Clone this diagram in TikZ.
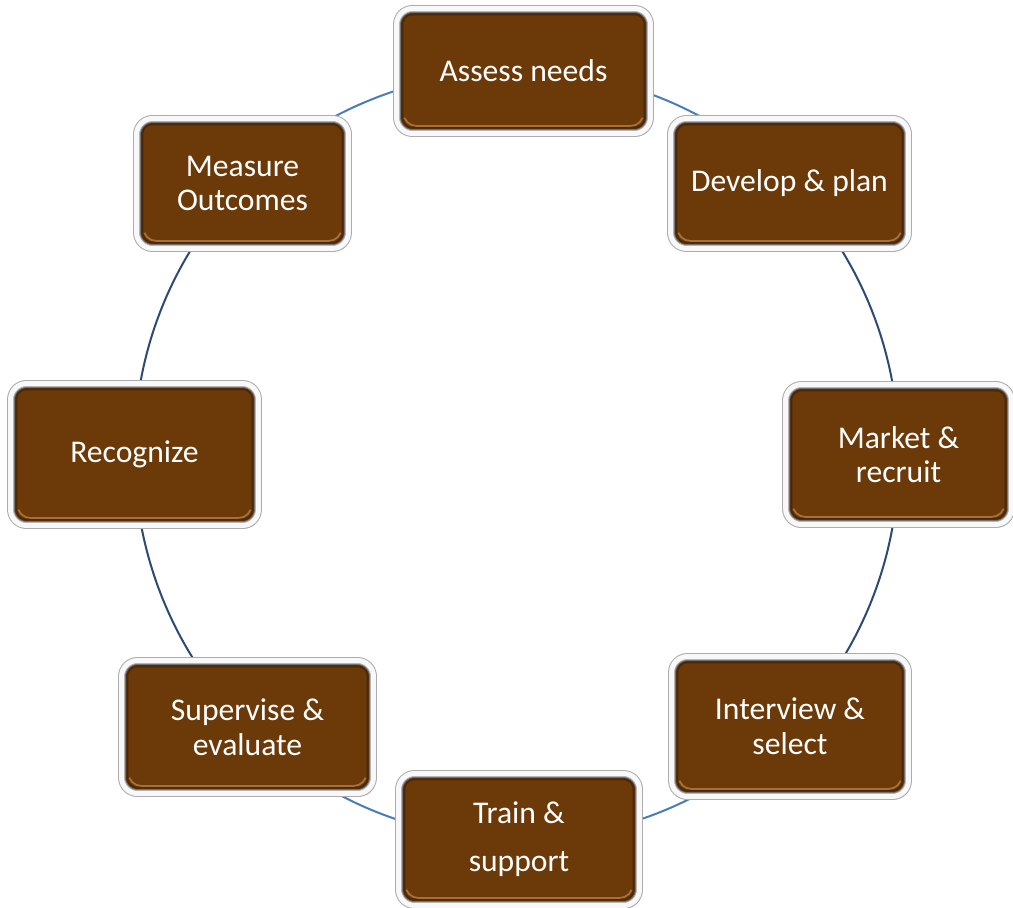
\documentclass[tikz,border=0pt]{standalone}
\usepackage{fontspec}
\setmainfont{Carlito}
\usetikzlibrary{shadows}
\definecolor{boxbrown}{RGB}{108,57,8}
\definecolor{innerdark}{RGB}{58,28,2}
\definecolor{hilite}{RGB}{190,132,72}
\definecolor{framegray}{RGB}{172,172,172}
\definecolor{frameinner}{RGB}{105,105,105}
\definecolor{framewhite}{RGB}{248,248,248}
\definecolor{arclight}{RGB}{74,124,186}
\definecolor{arcdark}{RGB}{44,74,114}
\pgfdeclarelayer{background}
\pgfsetlayers{background,main}
\tikzset{
  stage/.style={rectangle, rounded corners=0.32cm, fill=boxbrown,
    draw=framegray, line width=0.02cm, double=framewhite, double distance=0.1cm,
    drop shadow={shadow xshift=1.2pt, shadow yshift=-1.6pt, opacity=0.3, fill=black},
    text=white, font=\fontsize{18}{19.7}\selectfont, align=center, inner sep=0pt,
    path picture={
      \draw[line width=0.27cm, innerdark, opacity=0.6, rounded corners=0.32cm]
        (path picture bounding box.south west) rectangle (path picture bounding box.north east);
      \draw[line width=0.18cm, frameinner, rounded corners=0.32cm]
        (path picture bounding box.south west) rectangle (path picture bounding box.north east);
      \begin{scope}
        \clip (path picture bounding box.south west) rectangle ([yshift=0.36cm]path picture bounding box.south east);
        \draw[line width=0.035cm, hilite, opacity=0.75, rounded corners=0.26cm]
          ([shift={(0.14cm,0.15cm)}]path picture bounding box.south west) rectangle
          ([shift={(-0.14cm,-0.15cm)}]path picture bounding box.north east);
      \end{scope}
    }},
  ring/.style={line width=0.04cm, bend left=22.5, looseness=0.885},
}
\begin{document}
\begin{tikzpicture}[x=0.02cm, y=0.02cm]
\begin{pgfonlayer}{background}
  \fill[white] (0,0) rectangle (1013,907);
\end{pgfonlayer}
\useasboundingbox (0,0) rectangle (1013,907);

\node[stage, minimum width=5.08cm, minimum height=2.5cm]  (assess)  at (523.5,836)   {Assess needs};
\node[stage, minimum width=4.76cm, minimum height=2.6cm]  (develop) at (789.5,723.5) {Develop \& plan};
\node[stage, minimum width=4.52cm, minimum height=2.8cm]  (market)  at (898.5,452.5) {Market \&\\recruit};
\node[stage, minimum width=4.74cm, minimum height=2.8cm]  (interview) at (790,180.5) {Interview \&\\select};
\node[stage, minimum width=4.82cm, minimum height=2.64cm] (train)   at (519,67.5)    {Train \&\\[7.5pt]support};
\node[stage, minimum width=5.04cm, minimum height=2.66cm] (supervise) at (247.5,180) {Supervise \&\\evaluate};
\node[stage, minimum width=4.96cm, minimum height=2.84cm] (recognize) at (134.5,452.5) {Recognize};
\node[stage, minimum width=4.24cm, minimum height=2.6cm]  (measure) at (242.5,723.5) {Measure\\Outcomes};

\begin{pgfonlayer}{background}
  \draw[ring, arclight] (assess.center) to (develop.center);
  \draw[ring, arcdark]  (develop.center) to (market.center);
  \draw[ring, arcdark]  (market.center) to (interview.center);
  \draw[ring, arclight] (interview.center) to (train.center);
  \draw[ring, arclight] (train.center) to (supervise.center);
  \draw[ring, arcdark]  (supervise.center) to (recognize.center);
  \draw[ring, arcdark]  (recognize.center) to (measure.center);
  \draw[ring, arclight] (measure.center) to (assess.center);
\end{pgfonlayer}
\end{tikzpicture}
\end{document}
